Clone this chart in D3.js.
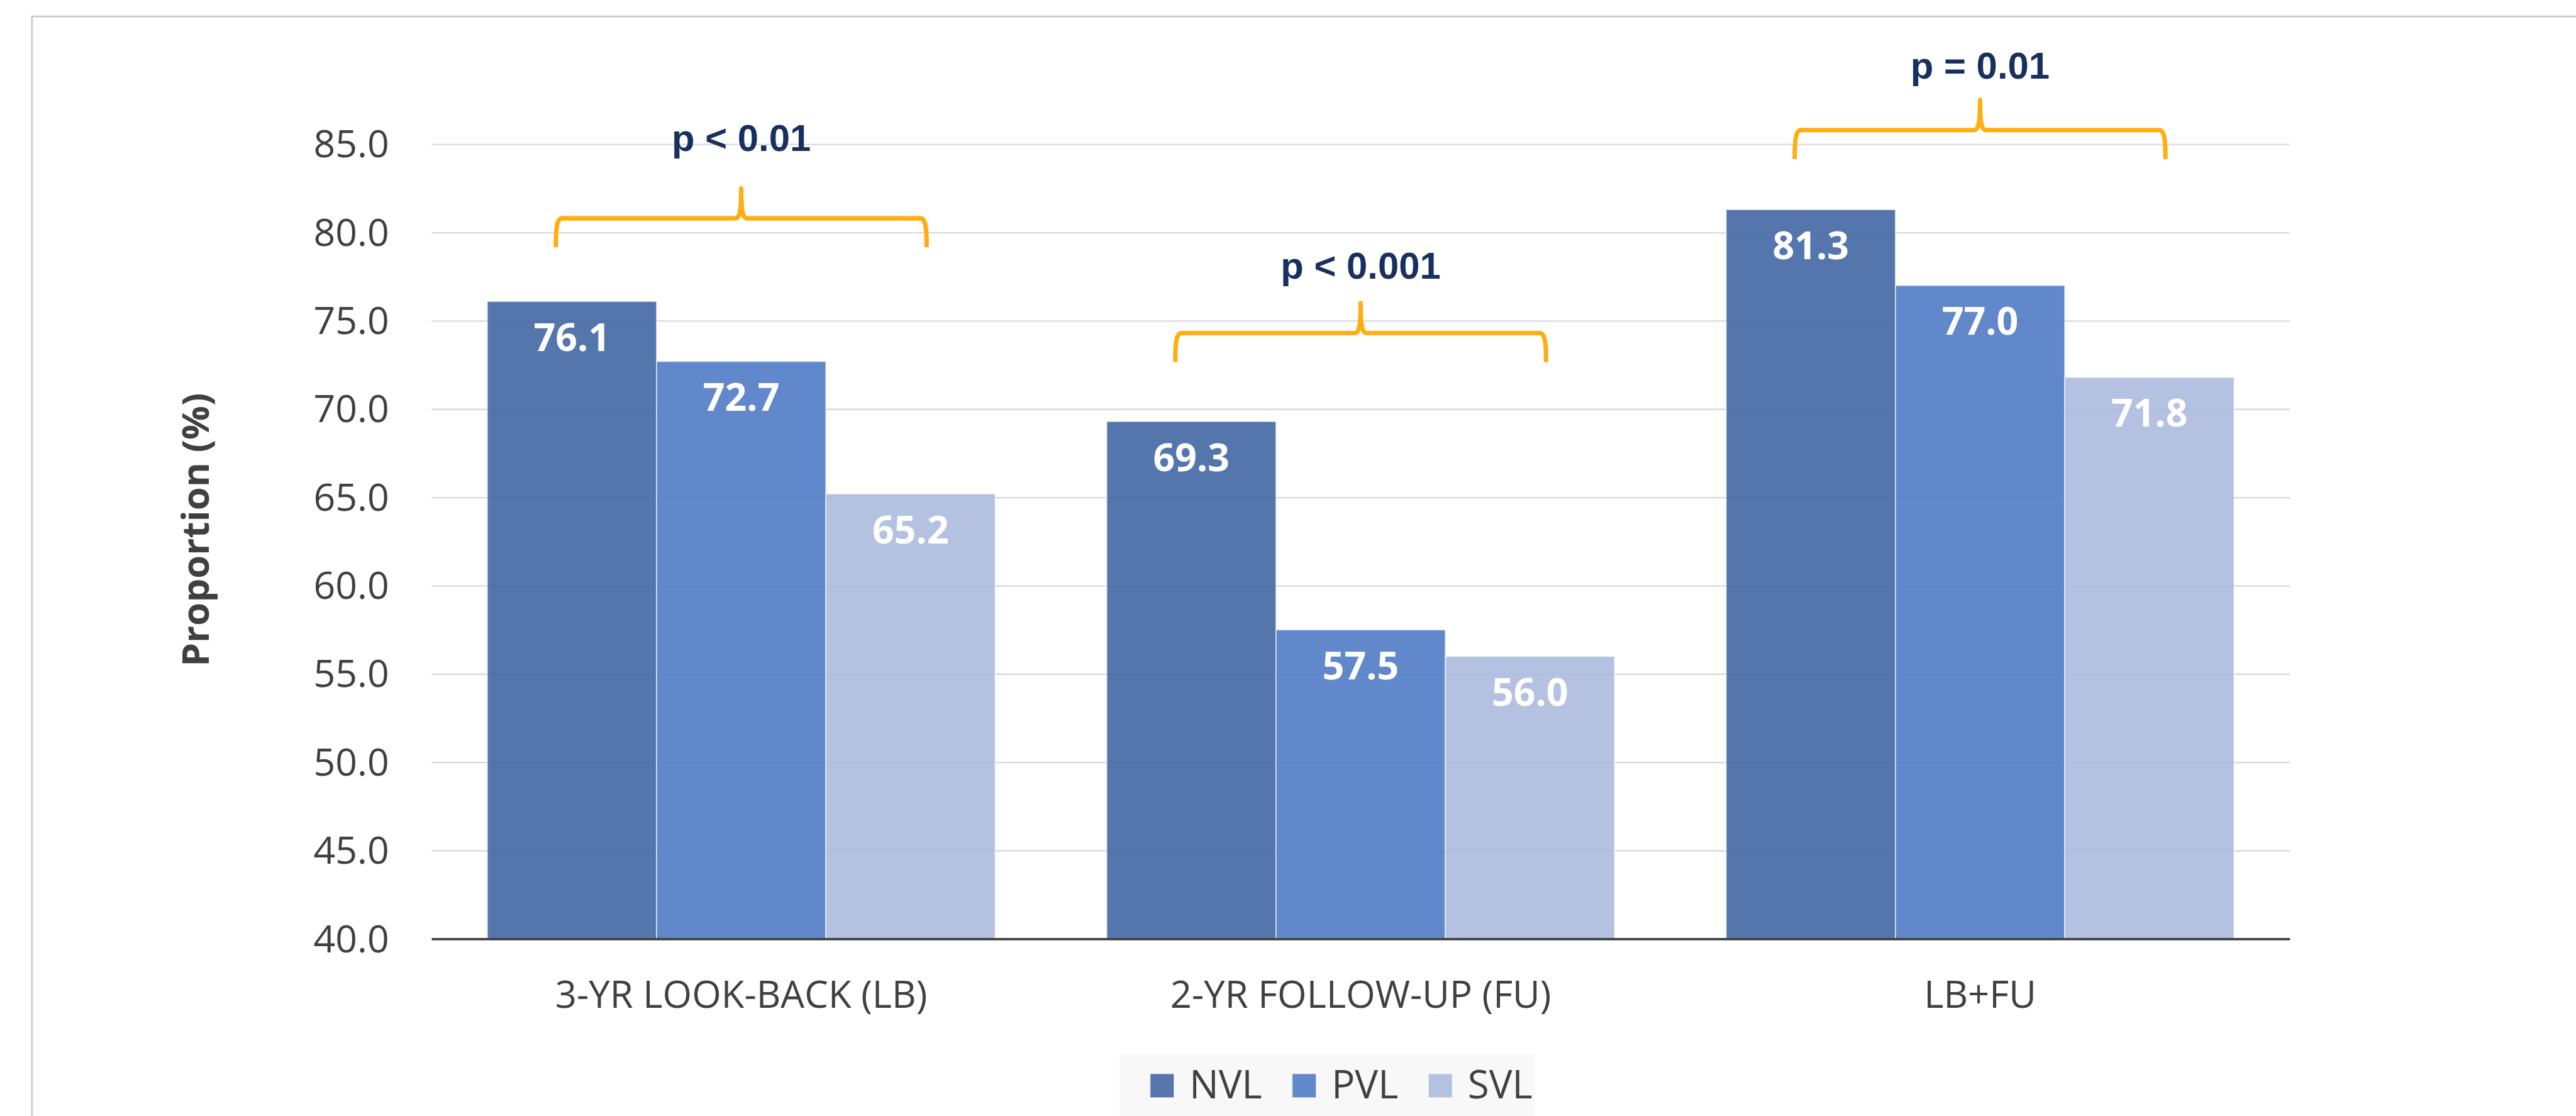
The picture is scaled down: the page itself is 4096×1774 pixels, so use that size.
<!DOCTYPE html>
<html>
<head>
<meta charset="utf-8">
<script src="https://cdn.jsdelivr.net/npm/d3@7"></script>
<style>
  body { margin: 0; background: #fff; }
  svg { display: block; }
</style>
</head>
<body>
<svg id="chart"></svg>
<script>
const categories = ["3-YR LOOK-BACK (LB)", "2-YR FOLLOW-UP (FU)", "LB+FU"];
const series = ["NVL", "PVL", "SVL"];
const nvl = [76.1, 69.3, 81.3];
const pvl = [72.7, 57.5, 77.0];
const svl = [65.2, 56.0, 71.8];
const yTicks = [40, 45, 50, 55, 60, 65, 70, 75, 80, 85];
const pLabels = ["p < 0.01", "p < 0.001", "p = 0.01"];
const pLevels = [80.8, 74.3, 85.8];     // level of the brace bar
const pTextLevels = [84.6, 77.4, 88.7]; // baseline of the p text

const colors = ["#4367a4", "#517bc6", "#acbade"];
const values = [nvl, pvl, svl];

// drawn in the reference's pixel space, scaled down by the viewBox
const W = 4377, H = 1896;
const svg = d3.select("#chart")
  .attr("width", 4096)
  .attr("height", 1774)
  .attr("viewBox", `0 0 ${W} ${H}`);

const plotLeft = 733, plotRight = 3891, plotTop = 245, plotBottom = 1595;
const font = "'Open Sans', sans-serif";

// chart frame (cut off at right and bottom)
svg.append("rect")
  .attr("x", 54).attr("y", 28)
  .attr("width", 6000).attr("height", 6000)
  .attr("fill", "none")
  .attr("stroke", "#cacaca")
  .attr("stroke-width", 3);

const x0 = d3.scaleBand()
  .domain(categories)
  .range([plotLeft, plotRight])
  .paddingInner(0.18)
  .paddingOuter(0.09);

const x1 = d3.scaleBand()
  .domain(series)
  .range([0, x0.bandwidth()]);

const y = d3.scaleLinear().domain([40, 85]).range([plotBottom, plotTop]);

// y axis with gridlines
const yAxis = svg.append("g")
  .attr("transform", `translate(${plotLeft},0)`)
  .call(d3.axisLeft(y)
    .tickValues(yTicks)
    .tickSize(-(plotRight - plotLeft))
    .tickPadding(72)
    .tickFormat(d3.format(".1f")));
yAxis.select(".domain").remove();
yAxis.selectAll(".tick line").attr("stroke", "#d9d9d9").attr("stroke-width", 2.5);
yAxis.selectAll(".tick text")
  .attr("fill", "#404040")
  .attr("font-family", font)
  .attr("font-size", 65)
  .attr("dy", "0.34em");

// bars
const groups = svg.append("g")
  .selectAll("g")
  .data(categories)
  .enter()
  .append("g")
  .attr("transform", (d) => `translate(${x0(d)},0)`);

const bars = groups.selectAll("g")
  .data((d, i) => series.map((s, j) => ({ s, j, v: values[j][i] })))
  .enter()
  .append("g");

bars.append("rect")
  .attr("x", (d) => x1(d.s))
  .attr("y", (d) => y(d.v))
  .attr("width", x1.bandwidth())
  .attr("height", (d) => y(40) - y(d.v))
  .attr("fill", (d) => colors[d.j])
  .attr("fill-opacity", 0.9)
  .attr("stroke", "#ffffff")
  .attr("stroke-opacity", 0.6)
  .attr("stroke-width", 2);

bars.append("text")
  .attr("x", (d) => x1(d.s) + x1.bandwidth() / 2)
  .attr("y", (d) => y(d.v) + 84)
  .attr("text-anchor", "middle")
  .attr("fill", "#ffffff")
  .attr("font-family", font)
  .attr("font-weight", "bold")
  .attr("font-size", 65)
  .text((d) => d.v.toFixed(1));

// x axis
const xAxis = svg.append("g")
  .attr("transform", `translate(0,${plotBottom})`)
  .call(d3.axisBottom(x0).tickSize(0).tickPadding(72));
xAxis.select(".domain").attr("stroke", "#404040").attr("stroke-width", 4);
xAxis.selectAll(".tick text")
  .attr("fill", "#404040")
  .attr("font-family", font)
  .attr("font-size", 64);

// y axis title
svg.append("text")
  .attr("transform", "translate(354,900) rotate(-90)")
  .attr("text-anchor", "middle")
  .attr("fill", "#404040")
  .attr("font-family", font)
  .attr("font-weight", "bold")
  .attr("font-size", 64)
  .text("Proportion (%)");

// significance braces
function brace(xa, xb, yl) {
  const cx = (xa + xb) / 2, yb = yl + 49, yt = yl - 51;
  return `M${xa},${yb} C${xa},${yl + 14} ${xa + 2},${yl} ${xa + 11},${yl}` +
    ` L${cx - 10},${yl} C${cx - 2},${yl} ${cx},${yl - 16} ${cx},${yt}` +
    ` C${cx},${yl - 16} ${cx + 2},${yl} ${cx + 10},${yl}` +
    ` L${xb - 11},${yl} C${xb - 2},${yl} ${xb},${yl + 14} ${xb},${yb}`;
}

const ann = svg.append("g")
  .selectAll("g")
  .data(categories)
  .enter()
  .append("g");

ann.append("path")
  .attr("d", (d, i) => {
    const cx = x0(d) + x0.bandwidth() / 2;
    const hw = x0.bandwidth() * 0.365;
    return brace(cx - hw, cx + hw, y(pLevels[i]));
  })
  .attr("fill", "none")
  .attr("stroke", "#ffad10")
  .attr("stroke-width", 7.5)
  .attr("stroke-linejoin", "round");

ann.append("text")
  .attr("x", (d) => x0(d) + x0.bandwidth() / 2)
  .attr("y", (d, i) => y(pTextLevels[i]))
  .attr("text-anchor", "middle")
  .attr("fill", "#17305f")
  .attr("font-family", "'Liberation Sans', Arial, sans-serif")
  .attr("font-weight", "bold")
  .attr("font-size", 64)
  .text((d, i) => pLabels[i]);

// legend
const legend = svg.append("g");
legend.append("rect")
  .attr("x", 1902).attr("y", 1791)
  .attr("width", 706).attr("height", 200)
  .attr("fill", "#f8f8f8");

let lx = 1954;
series.forEach((s, j) => {
  legend.append("rect")
    .attr("x", lx).attr("y", 1824)
    .attr("width", 41).attr("height", 41)
    .attr("fill", colors[j])
    .attr("fill-opacity", 0.9)
    .attr("stroke", "#ffffff")
    .attr("stroke-opacity", 0.6)
    .attr("stroke-width", 2);
  const t = legend.append("text")
    .attr("x", lx + 67).attr("y", 1866)
    .attr("fill", "#404040")
    .attr("font-family", font)
    .attr("font-size", 66)
    .text(s);
  lx += 67 + t.node().getComputedTextLength() + 51;
});
</script>
</body>
</html>
